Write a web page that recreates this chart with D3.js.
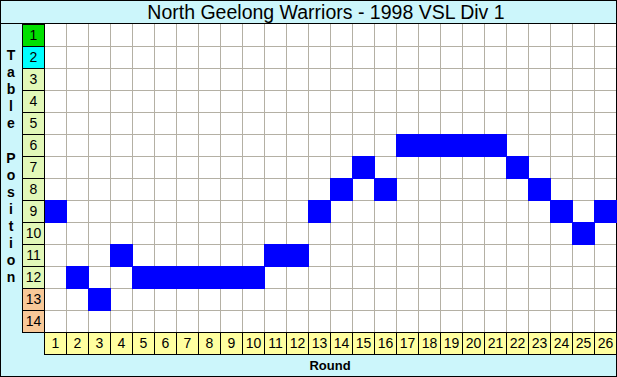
<!DOCTYPE html>
<html>
<head>
<meta charset="utf-8">
<script src="https://cdn.jsdelivr.net/npm/d3@7"></script>
<style>
  body { margin: 0; background: #fff; }
  svg { display: block; font-family: "Liberation Sans", Arial, sans-serif; }
</style>
</head>
<body>
<div id="chart"></div>
<script>
// data
var title = "North Geelong Warriors - 1998 VSL Div 1";
var rounds = d3.range(1, 27);
var positions = d3.range(1, 15);
var ladder = [9, 12, 13, 11, 12, 12, 12, 12, 12, 12, 11, 11, 9, 8, 7, 8, 6, 6, 6, 6, 6, 7, 8, 9, 10, 9];
var posColours = ["#00e000", "#00ffff", "#e2f8b8", "#e2f8b8", "#e2f8b8", "#e2f8b8", "#e2f8b8",
                  "#e2f8b8", "#e2f8b8", "#e2f8b8", "#e2f8b8", "#e2f8b8", "#f8c898", "#f8c898"];

var width = 617, height = 377;
var margin = {top: 24, left: 44, right: 1, bottom: 45};
var labW = 22;

var svg = d3.select("#chart").append("svg")
    .attr("width", width)
    .attr("height", height);

svg.append("rect")
    .attr("x", 0.5).attr("y", 0.5)
    .attr("width", width - 1).attr("height", height - 1)
    .attr("fill", "#ccf6fb")
    .attr("stroke", "#000");

// set the ranges
var x = d3.scaleBand()
    .domain(rounds)
    .range([margin.left, width - margin.right]);
var y = d3.scaleBand()
    .domain(positions)
    .range([margin.top, margin.top + 14 * 22]);

var plotBottom = y.range()[1];

// title
svg.append("line")
    .attr("x1", 0).attr("x2", width)
    .attr("y1", margin.top - 0.5).attr("y2", margin.top - 0.5)
    .attr("stroke", "#000");
svg.append("text")
    .attr("x", (x.range()[0] + x.range()[1]) / 2 - 4)
    .attr("y", 19)
    .attr("text-anchor", "middle")
    .attr("font-size", 19.5)
    .text(title);

// plot background
svg.append("rect")
    .attr("x", x.range()[0]).attr("y", y.range()[0])
    .attr("width", x.range()[1] - x.range()[0])
    .attr("height", plotBottom - y.range()[0])
    .attr("fill", "#fff");

// grid
svg.selectAll(".vgrid")
    .data(rounds.slice(1))
    .enter().append("line")
    .attr("x1", function(d) { return x(d) + 0.5; })
    .attr("x2", function(d) { return x(d) + 0.5; })
    .attr("y1", y.range()[0]).attr("y2", plotBottom)
    .attr("stroke", "#b4b0a4");
svg.selectAll(".hgrid")
    .data(positions.slice(1))
    .enter().append("line")
    .attr("y1", function(d) { return y(d) + 0.5; })
    .attr("y2", function(d) { return y(d) + 0.5; })
    .attr("x1", x.range()[0]).attr("x2", x.range()[1])
    .attr("stroke", "#b4b0a4");

// ladder position cells
svg.selectAll(".cell")
    .data(ladder)
    .enter().append("rect")
    .attr("x", function(d, i) { return x(rounds[i]); })
    .attr("y", function(d) { return y(d); })
    .attr("width", x.bandwidth() + 1)
    .attr("height", y.bandwidth() + 1)
    .attr("fill", "#0000ff");

// y labels
var yl = svg.selectAll(".ylab")
    .data(positions)
    .enter().append("g");
yl.append("rect")
    .attr("x", margin.left - labW + 0.5)
    .attr("y", function(d) { return y(d) + 0.5; })
    .attr("width", labW)
    .attr("height", y.bandwidth())
    .attr("fill", function(d, i) { return posColours[i]; })
    .attr("stroke", "#000");
yl.append("text")
    .attr("x", margin.left - labW / 2 + 0.5)
    .attr("y", function(d) { return y(d) + y.bandwidth() / 2 + 5; })
    .attr("text-anchor", "middle")
    .attr("font-size", 14)
    .text(function(d) { return d; });

// x labels
var xl = svg.selectAll(".xlab")
    .data(rounds)
    .enter().append("g");
xl.append("rect")
    .attr("x", function(d) { return x(d) + 0.5; })
    .attr("y", plotBottom + 0.5)
    .attr("width", x.bandwidth())
    .attr("height", 22)
    .attr("fill", "#ffffa0")
    .attr("stroke", "#000");
xl.append("text")
    .attr("x", function(d) { return x(d) + x.bandwidth() / 2 + 0.5; })
    .attr("y", plotBottom + 16)
    .attr("text-anchor", "middle")
    .attr("font-size", 14)
    .text(function(d) { return d; });

// axis titles
svg.append("text")
    .attr("x", (x.range()[0] + x.range()[1]) / 2)
    .attr("y", 370)
    .attr("text-anchor", "middle")
    .attr("font-size", 13)
    .attr("font-weight", "bold")
    .text("Round");

var ytitle = "Table Position".split("");
svg.selectAll(".ytitle")
    .data(ytitle)
    .enter().append("text")
    .attr("x", 11)
    .attr("y", function(d, i) { return 60 + i * 17.1; })
    .attr("text-anchor", "middle")
    .attr("font-size", 14)
    .attr("font-weight", "bold")
    .text(function(d) { return d; });
</script>
</body>
</html>
